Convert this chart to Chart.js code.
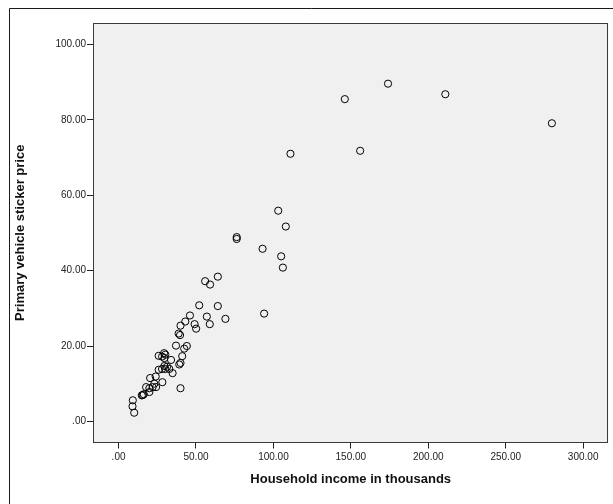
<!DOCTYPE html>
<html>
<head>
<meta charset="utf-8">
<script src="https://cdn.jsdelivr.net/npm/chart.js@4.4.1/dist/chart.umd.min.js"></script>
<style>
  html, body { margin: 0; padding: 0; background: #ffffff; }
  #wrap { width: 613px; height: 504px; }
</style>
</head>
<body>
<div id="wrap"><canvas id="c" width="613" height="504"></canvas></div>
<script>
// Household income in thousands (x) and primary vehicle sticker price (y)
const incomeValues = [
  146.1, 174.0, 211.0, 279.8, 156.0, 111.0, 103.1, 108.0, 76.3, 76.3,
  93.0, 105.0, 106.1, 55.9, 59.1, 64.1, 64.1, 52.1, 57.0, 69.0,
  94.0, 46.1, 43.1, 40.0, 49.1, 50.1, 58.9, 38.8, 39.7,
  37.1, 44.1, 42.4, 41.1, 39.2, 40.0, 25.9, 29.4, 30.2, 28.1,
  29.6, 33.9, 29.6, 31.3, 32.8, 28.1, 30.2, 34.9, 25.9, 24.0,
  20.4, 28.3, 23.1,
  17.8, 19.9, 22.0, 24.2, 40.0, 15.6, 16.3, 15.0, 19.9, 9.2, 9.0, 10.1
];
const priceValues = [
  85.5, 89.6, 86.8, 79.1, 71.8, 71.0, 55.9, 51.7, 48.9, 48.4,
  45.8, 43.8, 40.8, 37.2, 36.3, 38.4, 30.6, 30.8, 27.8, 27.2,
  28.6, 28.1, 26.5, 25.4, 25.8, 24.6, 25.8, 23.3, 22.9,
  20.1, 20.0, 19.3, 17.3, 15.1, 15.5, 17.4, 18.1, 17.7, 17.2,
  16.8, 16.3, 14.7, 14.5, 13.9, 13.9, 13.9, 12.8, 13.7, 11.9,
  11.5, 10.4, 10.0,
  9.1, 8.8, 9.1, 9.1, 8.8, 7.0, 7.2, 6.9, 7.8, 5.6, 4.0, 2.3
];
const xTickValues = [0, 50, 100, 150, 200, 250, 300];
const yTickValues = [0, 20, 40, 60, 80, 100];
const xTitle = 'Household income in thousands';
const yTitle = 'Primary vehicle sticker price';

const points = incomeValues.map((v, i) => ({ x: v, y: priceValues[i] }));

function fmt(v) {
  const s = Number(v).toFixed(2);
  return s.startsWith('0.') ? s.slice(1) : s;
}

const framePlugin = {
  id: 'frame',
  beforeDraw(chart) {
    const ctx = chart.ctx;
    const a = chart.chartArea;
    ctx.save();
    ctx.fillStyle = '#ffffff';
    ctx.fillRect(0, 0, chart.width, chart.height);
    ctx.strokeStyle = '#1a1a1a';
    ctx.lineWidth = 1;
    ctx.beginPath();
    ctx.moveTo(9.5, chart.height + 2);
    ctx.lineTo(9.5, 8.5);
    ctx.lineTo(chart.width + 2, 8.5);
    ctx.stroke();
    ctx.fillStyle = '#f0f0f0';
    ctx.fillRect(a.left, a.top, a.right - a.left, a.bottom - a.top);
    ctx.restore();
  },
  afterDatasetsDraw(chart) {
    const ctx = chart.ctx;
    const a = chart.chartArea;
    ctx.save();
    ctx.strokeStyle = '#3a3a3a';
    ctx.lineWidth = 1;
    ctx.strokeRect(Math.round(a.left) + 0.5, Math.round(a.top) + 0.5,
      Math.round(a.right - a.left) - 1, Math.round(a.bottom - a.top) - 1);
    ctx.restore();
  }
};

const tickFont = { family: '"Liberation Sans", Arial, sans-serif', size: 10 };
const titleFont = { family: '"Liberation Sans", Arial, sans-serif', size: 13, weight: 'bold' };

new Chart(document.getElementById('c'), {
  type: 'scatter',
  data: {
    datasets: [{
      data: points,
      pointStyle: 'circle',
      pointRadius: 3.6,
      pointHoverRadius: 3.6,
      borderWidth: 1,
      borderColor: '#000000',
      backgroundColor: 'rgba(0,0,0,0)'
    }]
  },
  options: {
    responsive: false,
    animation: false,
    events: [],
    layout: { padding: { left: 0, right: 2, top: 23, bottom: 0 } },
    plugins: { legend: { display: false }, tooltip: { enabled: false } },
    scales: {
      x: {
        type: 'linear',
        min: -16.5,
        max: 316.3,
        afterBuildTicks(scale) { scale.ticks = xTickValues.map(v => ({ value: v })); },
        afterFit(scale) { scale.height = 61.5; },
        border: { display: false },
        grid: { display: true, drawOnChartArea: false, drawTicks: true, tickLength: 6, color: '#222222', lineWidth: 1 },
        ticks: { color: '#222222', font: tickFont, padding: 3, maxRotation: 0, autoSkip: false, callback: v => fmt(v) },
        title: { display: true, text: xTitle, color: '#111111', font: titleFont, padding: { top: 0, bottom: 17 } }
      },
      y: {
        type: 'linear',
        min: -5.6,
        max: 105.7,
        afterBuildTicks(scale) { scale.ticks = yTickValues.map(v => ({ value: v })); },
        afterFit(scale) { scale.width = 93; },
        border: { display: false },
        grid: { display: true, drawOnChartArea: false, drawTicks: true, tickLength: 6, color: '#222222', lineWidth: 1 },
        ticks: { color: '#222222', font: tickFont, padding: 1, autoSkip: false, callback: v => fmt(v) },
        title: { display: true, text: yTitle, color: '#111111', font: titleFont, padding: { top: 13, bottom: 0 } }
      }
    }
  },
  plugins: [framePlugin]
});
</script>
</body>
</html>
